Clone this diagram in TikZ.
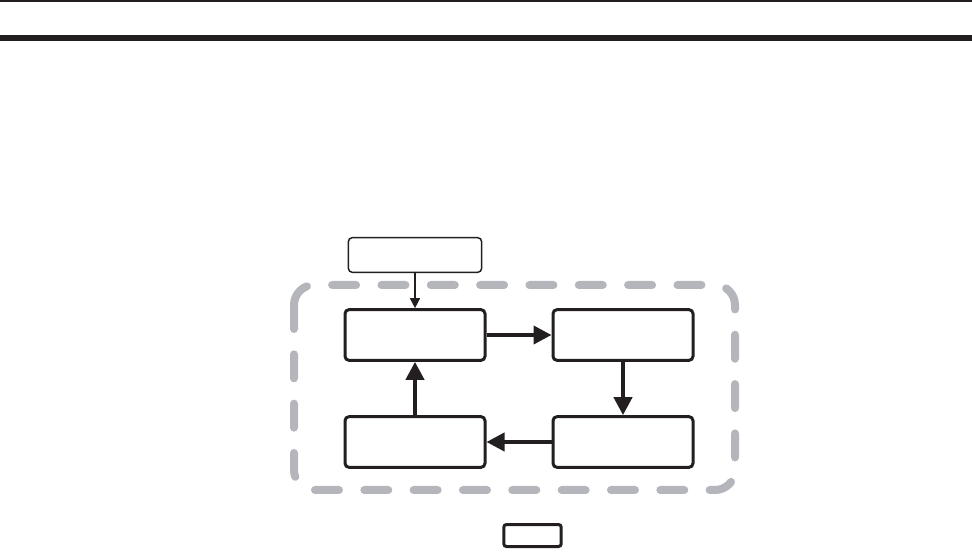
\documentclass[tikz,border=0pt]{standalone}
\usepackage{tikz}
\usetikzlibrary{arrows.meta}
\definecolor{ink}{RGB}{35,31,32}
\definecolor{loopgray}{RGB}{180,182,188}

\begin{document}
\begin{tikzpicture}[x=0.75pt, y=-0.75pt,
  box/.style={draw=ink, line width=2.25pt, rounded corners=3pt, minimum width=105pt, minimum height=38pt, inner sep=0pt},
  topbox/.style={draw=ink, line width=1.1pt, rounded corners=3pt, minimum width=100pt, minimum height=26pt, inner sep=0pt},
  keybox/.style={draw=ink, line width=2.25pt, rounded corners=2pt, minimum width=43pt, minimum height=16.5pt, inner sep=0pt},
  flow/.style={draw=ink, line width=3pt, -{Triangle[length=13.5pt, width=13.5pt]}}]
  \useasboundingbox (0,0) rectangle (972,552);

  % Header rules
  \draw[ink, line width=1.5pt] (0,1) -- (972,1);
  \draw[ink, line width=4.5pt] (0,38) -- (972,38);

  % Dashed loop
  \draw[loopgray, line width=6pt, line cap=round, rounded corners=15pt,
        dash pattern=on 18pt off 19pt] (294,285) rectangle (735,490);

  % Boxes
  \node[topbox] (start) at (415,255) {};
  \node[box] (a) at (415,335) {};
  \node[box] (b) at (623,335) {};
  \node[box] (c) at (623,442) {};
  \node[box] (d) at (415,442) {};
  \node[keybox] (key) at (532.5,535.5) {};

  % Arrows
  \draw[ink, line width=1.1pt, -{Triangle[length=7.5pt, width=7.5pt]}] (start) -- (a);
  \draw[flow] (a) -- (b);
  \draw[flow] (b) -- (c);
  \draw[flow] (c) -- (d);
  \draw[flow] (d) -- (a);
\end{tikzpicture}
\end{document}
